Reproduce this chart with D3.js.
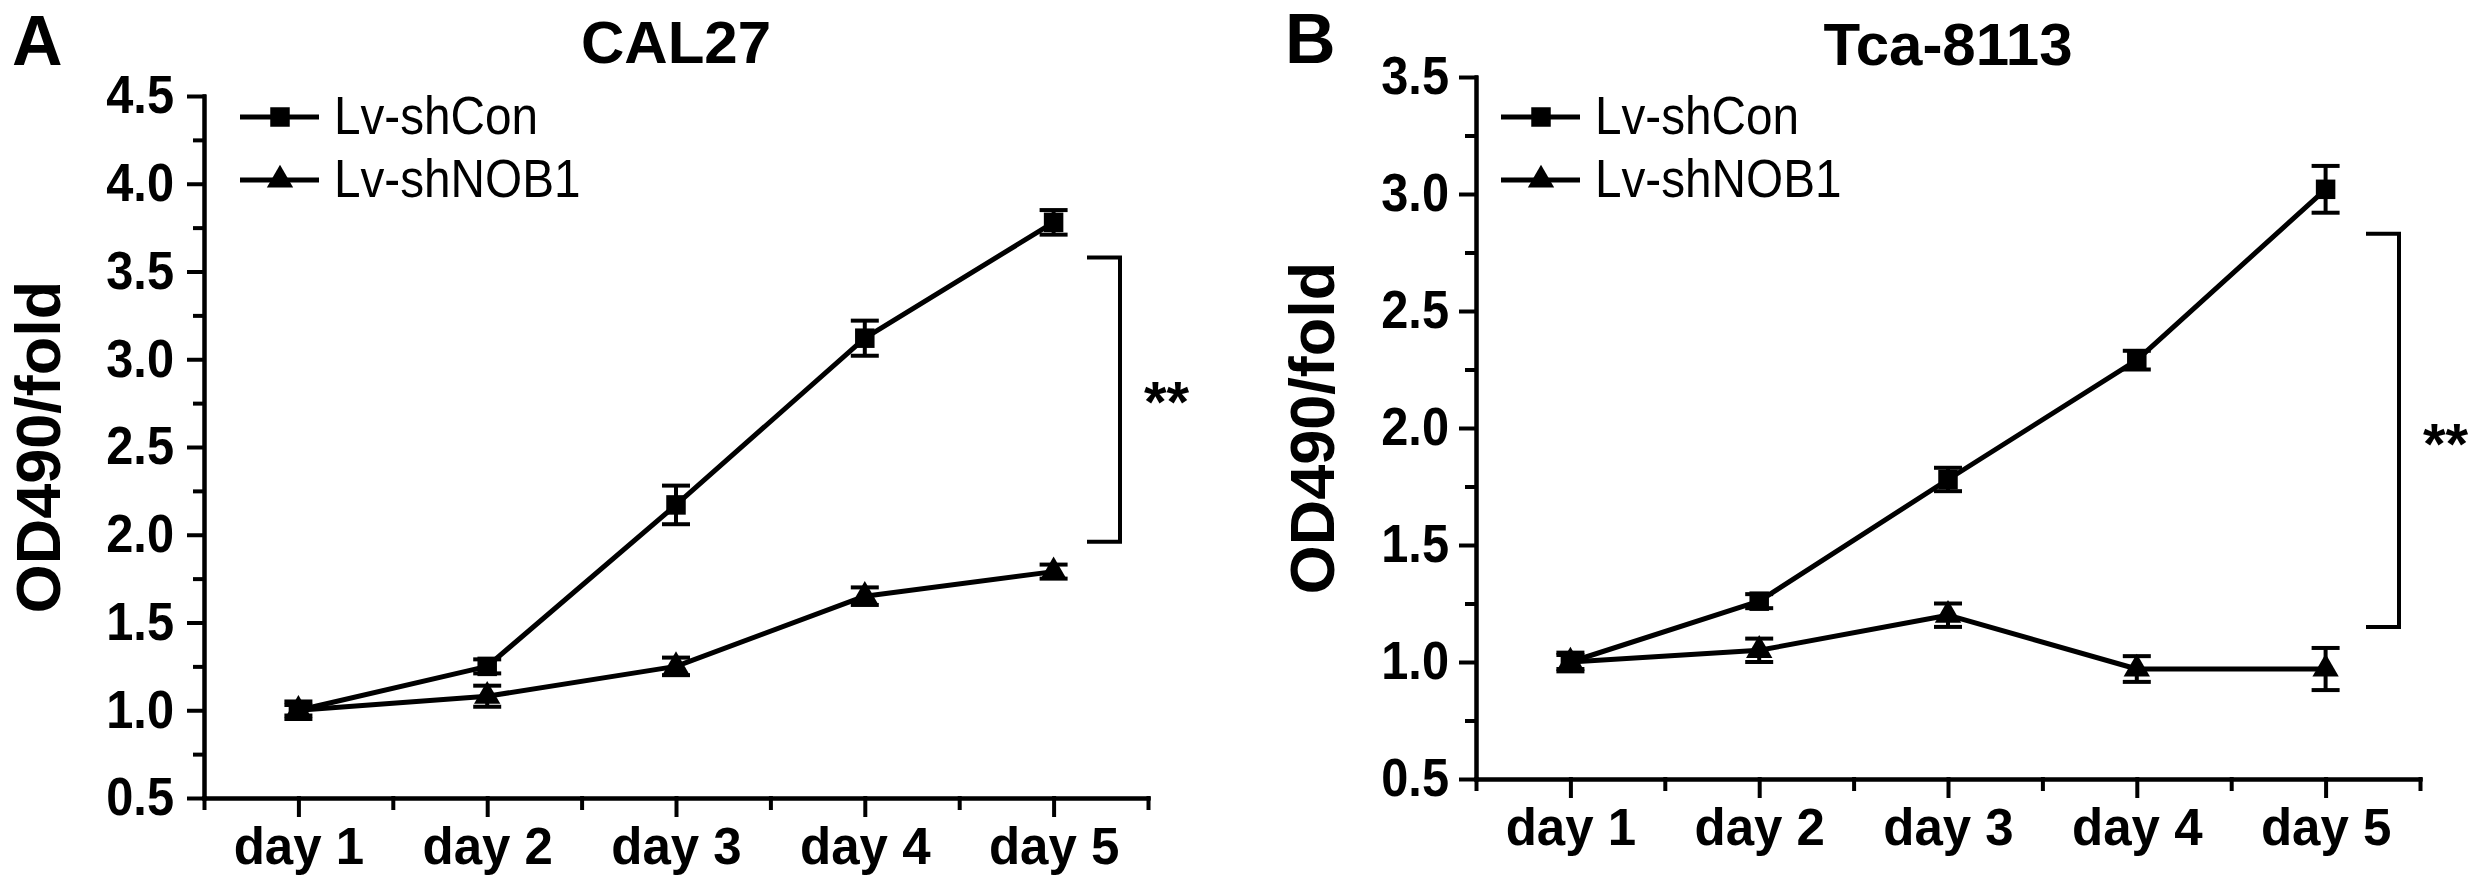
<!DOCTYPE html>
<html>
<head>
<meta charset="utf-8">
<script src="https://cdn.jsdelivr.net/npm/d3@7"></script>
<style>
  body { margin: 0; background: #fff; }
  text { font-family: "Liberation Sans", Arial, Helvetica, sans-serif; }
</style>
</head>
<body>
<svg id="fig" width="2480" height="886"></svg>
<script>
// categories
var days = ["day 1", "day 2", "day 3", "day 4", "day 5"];
var seriesNames = ["Lv-shCon", "Lv-shNOB1"];

// CAL27 values (OD490 fold) and error bars
var cal27Con = [1.0, 1.25, 2.17, 3.12, 3.78];
var cal27ConErr = [0.03, 0.04, 0.11, 0.1, 0.07];
var cal27Nob = [1.0, 1.08, 1.25, 1.65, 1.79];
var cal27NobErr = [0.05, 0.06, 0.05, 0.05, 0.04];

// Tca-8113 values and error bars
var tcaCon = [1.0, 1.26, 1.78, 2.29, 3.02];
var tcaConErr = [0.03, 0.03, 0.05, 0.04, 0.1];
var tcaNob = [1.0, 1.05, 1.2, 0.97, 0.97];
var tcaNobErr = [0.04, 0.05, 0.05, 0.055, 0.09];

// tick labels
var cal27Ticks = [0.5, 1.0, 1.5, 2.0, 2.5, 3.0, 3.5, 4.0, 4.5];
var tcaTicks = [0.5, 1.0, 1.5, 2.0, 2.5, 3.0, 3.5];

// significance brackets [low, high]
var cal27Bracket = [1.96, 3.58];
var tcaBracket = [1.15, 2.83];

var svg = d3.select("#fig");

function drawPanel(p) {
  var g = svg.append("g");
  var dayIdx = days.map(function (d, i) { return i + 1; });
  var x = d3.scaleLinear().domain([0.5, days.length + 0.5]).range([p.left, p.right]);
  var y = d3.scaleLinear().domain([p.ticks[0], p.ticks[p.ticks.length - 1]]).range([p.bottom, p.top]);

  var minorX = dayIdx.map(function (d) { return d - 0.5; }).concat([days.length + 0.5]);
  var minorY = p.ticks.slice(1).map(function (t, i) { return (t + p.ticks[i]) / 2; });

  // minor ticks
  g.append("g")
    .attr("transform", "translate(0," + p.bottom + ")")
    .call(d3.axisBottom(x).tickValues(minorX).tickSize(10).tickSizeOuter(0).tickFormat(""));
  g.append("g")
    .attr("transform", "translate(" + p.left + ",0)")
    .call(d3.axisLeft(y).tickValues(minorY).tickSize(9).tickSizeOuter(0).tickFormat(""));

  // major ticks
  var xa = g.append("g")
    .attr("transform", "translate(0," + p.bottom + ")")
    .call(d3.axisBottom(x).tickValues(dayIdx).tickSize(17).tickSizeOuter(0).tickPadding(13)
      .tickFormat(function (d) { return days[d - 1]; }));
  xa.attr("font-size", 51).attr("font-family", null).attr("font-weight", "bold");

  var ya = g.append("g")
    .attr("transform", "translate(" + p.left + ",0)")
    .call(d3.axisLeft(y).tickValues(p.ticks).tickSize(15).tickSizeOuter(0)
      .tickFormat(d3.format(".1f")));
  ya.attr("font-size", 53).attr("font-family", null).attr("font-weight", "bold");
  // condensed digits, like the original
  ya.selectAll(".tick text")
    .attr("x", -p.labelGap / 0.92)
    .attr("transform", "scale(0.92,1)");

  g.selectAll(".domain, .tick line")
    .attr("stroke", "#000")
    .attr("stroke-width", 4)
    .attr("stroke-linecap", "square");

  // titles
  g.append("text")
    .attr("x", p.letterX).attr("y", p.letterY)
    .attr("font-size", 70).attr("font-weight", "bold")
    .text(p.letter);
  g.append("text")
    .attr("x", (p.left + p.right) / 2).attr("y", p.titleY)
    .attr("text-anchor", "middle")
    .attr("font-size", 60).attr("font-weight", "bold")
    .text(p.title);

  // y label
  g.append("text")
    .attr("transform", "translate(" + p.labelX + "," + (p.top + p.bottom) / 2 + ")rotate(-90)")
    .attr("text-anchor", "middle")
    .attr("font-size", 63).attr("font-weight", "bold")
    .text("OD490/fold");

  var line = d3.line()
    .x(function (d, i) { return x(i + 1); })
    .y(function (d) { return y(d); });

  var series = [
    { vals: p.con, err: p.conErr, sym: d3.symbolSquare, size: 380 },
    { vals: p.nob, err: p.nobErr, sym: d3.symbolTriangle, size: 300 }
  ];

  series.forEach(function (s) {
    g.append("path")
      .datum(s.vals)
      .attr("d", line)
      .attr("fill", "none")
      .attr("stroke", "#000")
      .attr("stroke-width", 5)
      .attr("stroke-linejoin", "round");

    var eb = g.append("g").selectAll("g")
      .data(s.vals)
      .enter()
      .append("g");
    eb.append("line")
      .attr("x1", function (d, i) { return x(i + 1); })
      .attr("x2", function (d, i) { return x(i + 1); })
      .attr("y1", function (d, i) { return y(d - s.err[i]); })
      .attr("y2", function (d, i) { return y(d + s.err[i]); })
      .attr("stroke", "#000").attr("stroke-width", 4);
    [-1, 1].forEach(function (sign) {
      eb.append("line")
        .attr("x1", function (d, i) { return x(i + 1) - 14; })
        .attr("x2", function (d, i) { return x(i + 1) + 14; })
        .attr("y1", function (d, i) { return y(d + sign * s.err[i]); })
        .attr("y2", function (d, i) { return y(d + sign * s.err[i]); })
        .attr("stroke", "#000").attr("stroke-width", 4);
    });

    g.append("g").selectAll("path")
      .data(s.vals)
      .enter()
      .append("path")
      .attr("d", d3.symbol().type(s.sym).size(s.size))
      .attr("transform", function (d, i) { return "translate(" + x(i + 1) + "," + y(d) + ")"; })
      .attr("fill", "#000");
  });

  // legend
  seriesNames.forEach(function (name, k) {
    var ly = p.legendY[k];
    g.append("line")
      .attr("x1", p.legendX).attr("x2", p.legendX + 79)
      .attr("y1", ly).attr("y2", ly)
      .attr("stroke", "#000").attr("stroke-width", 5);
    g.append("path")
      .attr("d", d3.symbol().type(series[k].sym).size(series[k].size))
      .attr("transform", "translate(" + (p.legendX + 40) + "," + ly + ")")
      .attr("fill", "#000");
    g.append("text")
      .attr("transform", "translate(" + (p.legendX + 94) + "," + (ly + 17) + ")scale(0.9,1)")
      .attr("font-size", 53)
      .text(name);
  });

  // significance bracket
  var bx = p.bracketX;
  g.append("path")
    .attr("d", "M" + (bx - 33) + "," + y(p.bracket[1]) + "H" + bx + "V" + y(p.bracket[0]) + "H" + (bx - 33))
    .attr("fill", "none")
    .attr("stroke", "#000")
    .attr("stroke-width", 4);
  g.append("text")
    .attr("x", bx + 24)
    .attr("y", y((p.bracket[0] + p.bracket[1]) / 2) + p.starDy)
    .attr("font-size", 58).attr("font-weight", "bold")
    .text("**");
}

drawPanel({
  left: 204, right: 1148, top: 96, bottom: 798,
  ticks: cal27Ticks, labelGap: 30,
  con: cal27Con, conErr: cal27ConErr, nob: cal27Nob, nobErr: cal27NobErr,
  letter: "A", letterX: 12, letterY: 65,
  title: "CAL27", titleY: 63,
  labelX: 60,
  legendX: 240, legendY: [117, 180],
  bracket: cal27Bracket, bracketX: 1120, starDy: 22
});

drawPanel({
  left: 1476, right: 2420, top: 77, bottom: 779,
  ticks: tcaTicks, labelGap: 27,
  con: tcaCon, conErr: tcaConErr, nob: tcaNob, nobErr: tcaNobErr,
  letter: "B", letterX: 1285, letterY: 63,
  title: "Tca-8113", titleY: 65,
  labelX: 1334,
  legendX: 1501, legendY: [117, 180],
  bracket: tcaBracket, bracketX: 2399, starDy: 34
});
</script>
</body>
</html>
